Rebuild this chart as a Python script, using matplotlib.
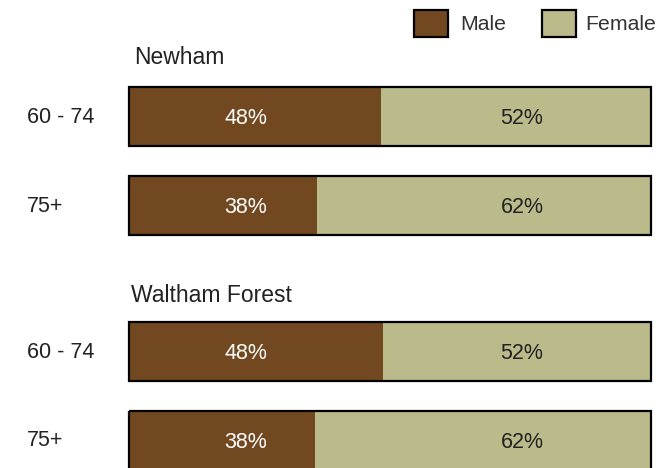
import numpy as np
import matplotlib
matplotlib.use('Agg')
from matplotlib import pyplot as plt
from matplotlib.patches import Rectangle

plt.rcParams['font.family'] = ['Liberation Sans', 'DejaVu Sans']

# data
groups = ['Newham', 'Waltham Forest']
ages = ['60 - 74', '75+']
male_share = [48.3, 36.0, 48.7, 35.6]       # bar split, percent
male_labels = ['48%', '38%', '48%', '38%']
female_labels = ['52%', '62%', '52%', '62%']

c_male = '#71481f'
c_female = '#bbba8a'

W, H = 662, 468
fig = plt.figure(figsize=(W / 100, H / 100), dpi=100)
ax = fig.add_axes([0, 0, 1, 1])
# x: 0..100 percent maps onto the bar area, y in pixels from the top
x0, x1 = 129, 651
sc = (x1 - x0) / 100
ax.set_xlim(-x0 / sc, (W - x0) / sc)
ax.set_ylim(H, 0)
ax.axis('off')

ypos = [116.5, 205.5, 351.5, 440]
bh = 59
male = np.array(male_share)
female = 100 - male

ax.barh(ypos, male, height=bh, color=c_male, edgecolor='none')
ax.barh(ypos, female, left=male, height=bh, color=c_female, edgecolor='none')
for y in ypos:
    ax.add_patch(Rectangle((0, y - bh / 2), 100, bh, fill=False,
                           edgecolor='black', linewidth=1.6, clip_on=False))

for i, y in enumerate(ypos):
    ax.text(22.4, y + 2, male_labels[i], color='white', fontsize=15.5,
            ha='center', va='center')
    ax.text(75.3, y + 2, female_labels[i], color='#222222', fontsize=15.5,
            ha='center', va='center')
    ax.text(-(x0 - 27) / sc, y + 1, ages[i % 2], color='#222222', fontsize=15.5,
            ha='left', va='center')

ax.text(1, 58, groups[0], fontsize=16.5, color='#222222', ha='left', va='center')
ax.text(0.4, 296, groups[1], fontsize=16.5, color='#222222', ha='left', va='center')

# legend drawn by hand
def px(x):
    return (x - x0) / sc

ax.add_patch(Rectangle((px(414), 10), 34 / sc, 27, facecolor=c_male,
                       edgecolor='black', linewidth=1.6, clip_on=False))
ax.text(px(460), 25, 'Male', fontsize=15.3, color='#333333', va='center')
ax.add_patch(Rectangle((px(542), 10), 34 / sc, 27, facecolor=c_female,
                       edgecolor='black', linewidth=1.6, clip_on=False))
ax.text(px(585), 25, 'Female', fontsize=15.3, color='#333333', va='center')

fig.savefig('out.png', dpi=100)
